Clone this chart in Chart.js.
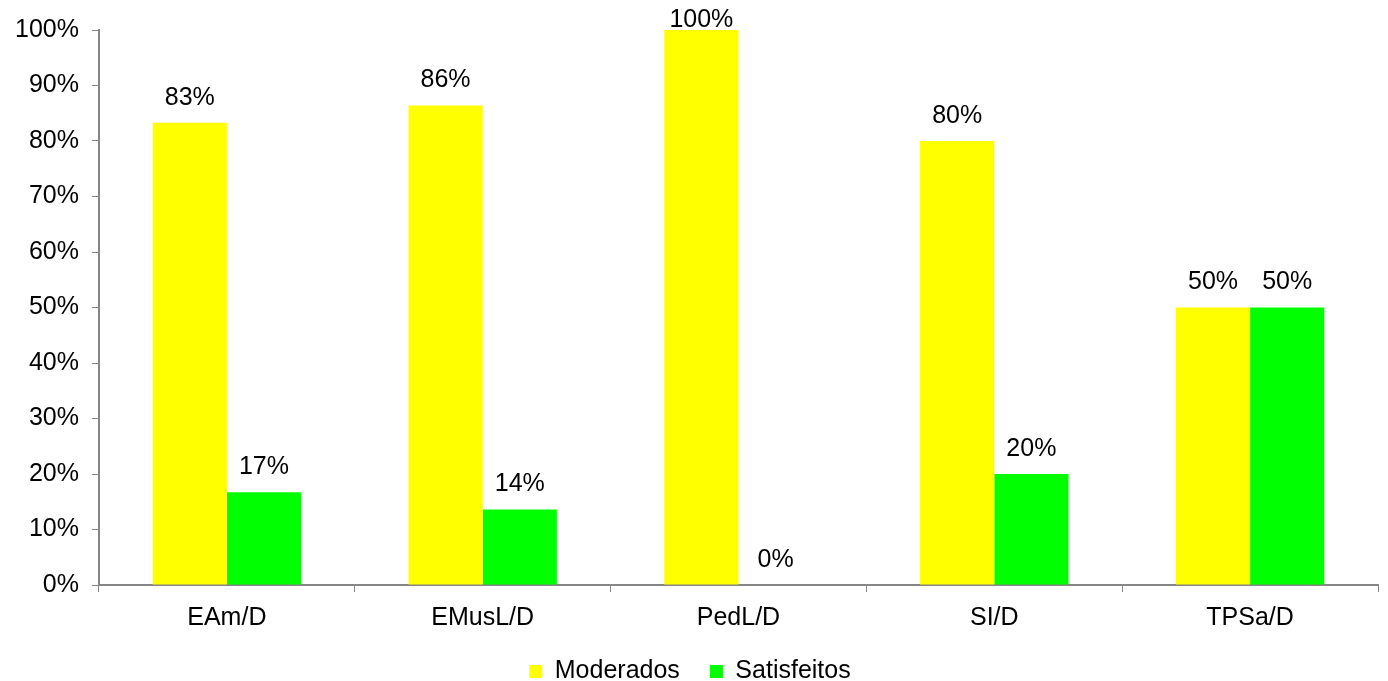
<!DOCTYPE html>
<html>
<head>
<meta charset="utf-8">
<script src="https://cdn.jsdelivr.net/npm/chart.js@4"></script>
<style>
  html, body { margin: 0; padding: 0; background: #fff; }
  #wrap { width: 1388px; height: 681px; }
</style>
</head>
<body>
<div id="wrap"><canvas id="myChart" width="1388" height="681"></canvas></div>
<script>
// Data
const categories = ['EAm/D', 'EMusL/D', 'PedL/D', 'SI/D', 'TPSa/D'];
const moderados = [83.3, 86.4, 100, 80, 50];
const satisfeitos = [16.7, 13.6, 0, 20, 50];
const yTicks = [0, 10, 20, 30, 40, 50, 60, 70, 80, 90, 100];

const axisGray = '#868686';
const font = { family: 'Liberation Sans, Arial, sans-serif', size: 25 };

// value labels above bars
const valueLabels = {
  id: 'valueLabels',
  afterDatasetsDraw(chart) {
    const ctx = chart.ctx;
    ctx.save();
    ctx.font = font.size + 'px ' + font.family;
    ctx.fillStyle = '#000';
    ctx.textAlign = 'center';
    ctx.textBaseline = 'middle';
    chart.data.datasets.forEach((ds, i) => {
      chart.getDatasetMeta(i).data.forEach((bar, j) => {
        const y = Math.max(bar.y - 25, 20);
        ctx.fillText(Math.round(ds.data[j]) + '%', bar.x, y);
      });
    });
    ctx.restore();
  }
};

const data = {
  labels: categories,
  datasets: [{
    label: 'Moderados',
    data: moderados,
    backgroundColor: '#FFFF00'
  }, {
    label: 'Satisfeitos',
    data: satisfeitos,
    backgroundColor: '#00FF00'
  }]
};

const options = {
  responsive: false,
  animation: false,
  layout: { padding: { top: 30, right: 10, left: 2, bottom: -13 } },
  datasets: {
    bar: { categoryPercentage: 0.58, barPercentage: 1.0 }
  },
  scales: {
    x: {
      grid: { offset: true, drawOnChartArea: false, tickLength: 7, color: axisGray },
      border: { color: axisGray, width: 2 },
      ticks: { color: '#000', font: font, padding: 11 },
      afterFit(axis) { axis.height -= 15; }
    },
    y: {
      min: 0,
      max: 100,
      afterBuildTicks(axis) { axis.ticks = yTicks.map(v => ({ value: v })); },
      grid: { drawOnChartArea: false, tickLength: 7, color: axisGray },
      border: { color: axisGray, width: 2 },
      ticks: { color: '#000', font: font, padding: 13, callback: v => v + '%' }
    }
  },
  plugins: {
    tooltip: { enabled: false },
    legend: {
      position: 'bottom',
      labels: {
        color: '#000',
        font: font,
        boxWidth: 13,
        boxHeight: 13,
        padding: 30
      }
    }
  }
};

const ctx = document.getElementById('myChart').getContext('2d');
const myChart = new Chart(ctx, {
  type: 'bar',
  data: data,
  options: options,
  plugins: [valueLabels]
});
</script>
</body>
</html>
